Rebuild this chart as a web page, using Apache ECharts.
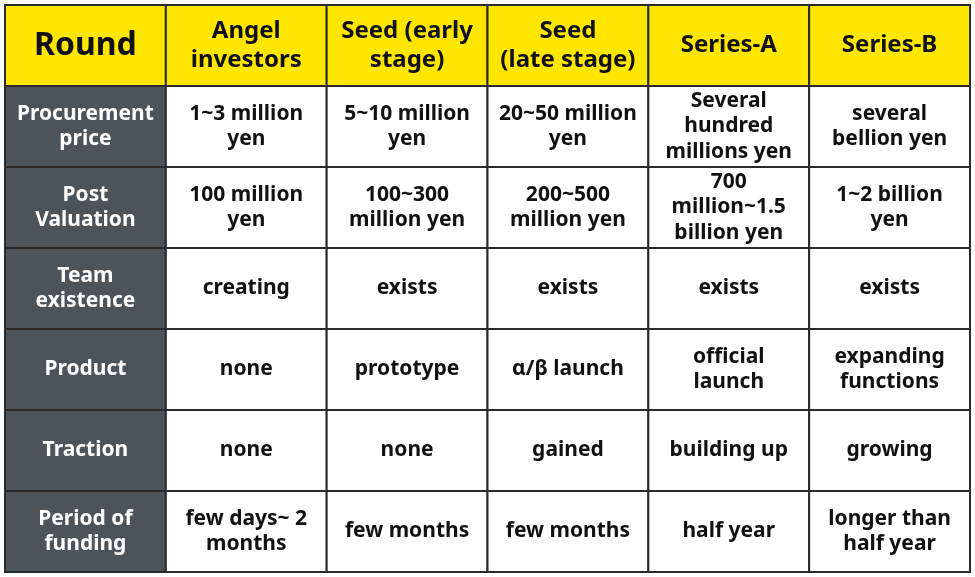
<!DOCTYPE html>
<html>
<head>
<meta charset="utf-8">
<script src="https://cdn.jsdelivr.net/npm/echarts@6/dist/echarts.min.js"></script>
<style>
  html, body { margin: 0; padding: 0; background: #fff; }
  #chart { width: 975px; height: 577px; }
</style>
</head>
<body>
<div id="chart"></div>
<script>
// header row
let headers = ['Round', 'Angel\ninvestors', 'Seed (early\nstage)', 'Seed\n(late stage)', 'Series-A', 'Series-B']
// first column
let rowLabels = ['Procurement\nprice', 'Post\nValuation', 'Team\nexistence', 'Product', 'Traction', 'Period of\nfunding']
// body cells, one array per row
let procurement = ['1~3 million\nyen', '5~10 million\nyen', '20~50 million\nyen', 'Several\nhundred\nmillions yen', 'several\nbellion yen']
let valuation = ['100 million\nyen', '100~300\nmillion yen', '200~500\nmillion yen', '700\nmillion~1.5\nbillion yen', '1~2 billion\nyen']
let team = ['creating', 'exists', 'exists', 'exists', 'exists']
let product = ['none', 'prototype', 'α/β launch', 'official\nlaunch', 'expanding\nfunctions']
let traction = ['none', 'none', 'gained', 'building up', 'growing']
let period = ['few days~ 2\nmonths', 'few months', 'few months', 'half year', 'longer than\nhalf year']
let bodyRows = [procurement, valuation, team, product, traction, period]

let cells = []
headers.forEach((t, c) => cells.push([c, 0, t, 'head']))
rowLabels.forEach((t, r) => {
  cells.push([0, r + 1, t, 'side'])
  bodyRows[r].forEach((v, c) => cells.push([c + 1, r + 1, v, 'body']))
})

let chart = echarts.init(document.getElementById('chart'))
chart.setOption({
  animation: false,
  grid: { left: 5, right: 5, top: 5, bottom: 5 },
  xAxis: { type: 'value', min: 0, max: 6, show: false },
  yAxis: { type: 'value', min: 0, max: 7, inverse: true, show: false },
  series: [{
    type: 'custom',
    data: cells,
    renderItem: function (params, api) {
      let c = api.value(0), r = api.value(1)
      let item = cells[params.dataIndex]
      let p0 = api.coord([c, r]), p1 = api.coord([c + 1, r + 1])
      let kind = item[3]
      let fill = kind === 'head' ? '#fee600' : (kind === 'side' ? '#4b535b' : '#ffffff')
      let color = kind === 'side' ? '#ffffff' : '#111111'
      let size = kind === 'head' ? (c === 0 ? 32 : 24) : 21
      return {
        type: 'group',
        children: [{
          type: 'rect',
          shape: { x: p0[0], y: p0[1], width: p1[0] - p0[0], height: p1[1] - p0[1] },
          style: { fill: fill, stroke: '#2a2a2a', lineWidth: 2 }
        }, {
          type: 'text',
          style: {
            x: (p0[0] + p1[0]) / 2, y: (p0[1] + p1[1]) / 2,
            text: item[2], align: 'center', verticalAlign: 'middle',
            fill: color, fontSize: size, fontWeight: 'bold',
            fontFamily: 'Noto Sans', lineHeight: size * 1.2
          }
        }]
      }
    }
  }]
})
</script>
</body>
</html>
